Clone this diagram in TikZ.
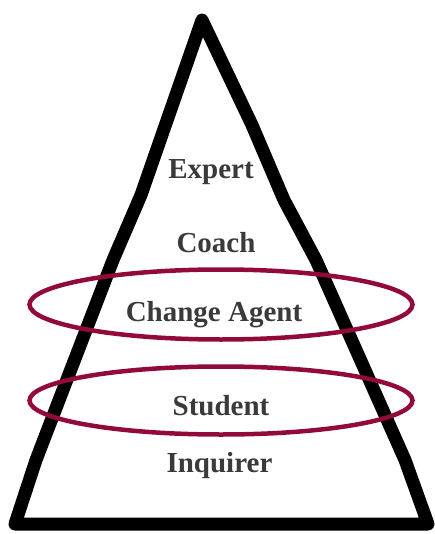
\documentclass[tikz,border=0pt]{standalone}
\usepackage{fontspec}
\setmainfont{Liberation Serif}
\definecolor{ring-red}{HTML}{920A3C}
\definecolor{label-gray}{HTML}{3A3A3A}

\begin{document}
\begin{tikzpicture}[x=1pt, y=-1pt,
    level/.style={anchor=base, text=label-gray, inner sep=0pt,
      font=\fontsize{29}{34}\selectfont\bfseries},
    ring/.style={draw=ring-red, line width=4.5pt}]
      \useasboundingbox (0,0) rectangle (435,534);

      % hand drawn triangle
      \draw[line width=13pt, line join=round, line cap=round]
        (15,524) -- (36,460) -- (113,260) -- (141,195) -- (202,20)
        -- (252,125) -- (284,200) -- (316,260) -- (405,460) -- (428,524)
        -- cycle;

      \node[level] (expert) at (211,179) {Expert};
      \node[level] (coach) at (216,252) {Coach};
      \node[level] (agent) at (214,321) {Change Agent};
      \node[level] (student) at (221,415) {Student};
      \node[level] (inquirer) at (219.5,472) {Inquirer};

      \draw[ring] (221,304.5) ellipse [x radius=191.5, y radius=35];
      \draw[ring] (221,400.5) ellipse [x radius=191.5, y radius=34];
    \end{tikzpicture}
\end{document}
